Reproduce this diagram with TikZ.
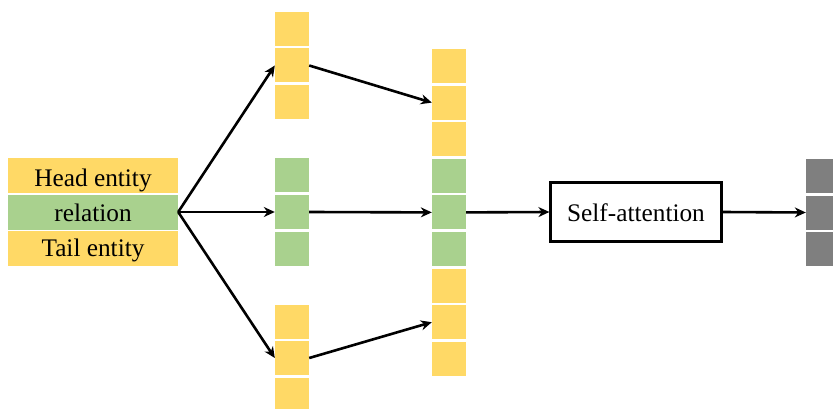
\documentclass[tikz,border=0pt]{standalone}
\usepackage{fontspec}
\setmainfont{Liberation Serif}
\usetikzlibrary{arrows.meta}
\definecolor{cyel}{HTML}{FFD966}
\definecolor{cgrn}{HTML}{A9D18E}
\definecolor{cgry}{HTML}{7F7F7F}
\begin{document}
\begin{tikzpicture}[x=1pt,y=-1pt,
  cell/.style={minimum width=34pt,minimum height=34pt,inner sep=0pt,draw=none},
  ycell/.style={cell,fill=cyel},
  gcell/.style={cell,fill=cgrn},
  kcell/.style={cell,fill=cgry},
  lrow/.style={minimum width=170pt,minimum height=35pt,inner sep=0pt},
  ltext/.style={anchor=base,inner sep=0pt,font=\fontsize{25.3}{29}\selectfont},
  arr/.style={line width=2.6pt,-{Stealth[length=11pt,width=10pt]}}]
\useasboundingbox (0,0) rectangle (833,409);
% left box
\node[lrow,fill=cyel] (head) at (93,175.5) {};
\node[lrow,fill=cgrn] (rel) at (93,212) {};
\node[lrow,fill=cyel] (tail) at (93,248.5) {};
\node[ltext] (headt) at (93,186.5) {Head entity};
\node[ltext] (relt) at (93,221.5) {relation};
\node[ltext] (tailt) at (93,256.5) {Tail entity};
% top column
\node[ycell] (t1) at (292,29) {};
\node[ycell] (t2) at (292,65.5) {};
\node[ycell] (t3) at (292,102) {};
% green column
\node[gcell] (g1) at (292,175.5) {};
\node[gcell] (g2) at (292,212) {};
\node[gcell] (g3) at (292,248.5) {};
% bottom column
\node[ycell] (b1) at (292,321.5) {};
\node[ycell] (b2) at (292,358) {};
\node[ycell] (b3) at (292,394.5) {};
% middle column
\node[ycell] (m1) at (449,66) {};
\node[ycell] (m2) at (449,102.6) {};
\node[ycell] (m3) at (449,139.2) {};
\node[gcell] (m4) at (449,175.8) {};
\node[gcell] (m5) at (449,212.4) {};
\node[gcell] (m6) at (449,249) {};
\node[ycell] (m7) at (449,285.6) {};
\node[ycell] (m8) at (449,322.2) {};
\node[ycell] (m9) at (449,358.8) {};
% self-attention
\node[draw,line width=2.2pt,minimum width=171pt,minimum height=59pt,inner sep=0pt] (sa) at (636,212) {};
\node[ltext] (sat) at (636,221) {Self-attention};
% gray column
\node[kcell] (k1) at (823,176) {};
\node[kcell] (k2) at (823,212.5) {};
\node[kcell] (k3) at (823,249) {};
% arrows
\draw[arr] (rel.east) -- (t2.west);
\draw[arr] (rel.east) -- (g2.west);
\draw[arr] (rel.east) -- (b2.west);
\draw[arr] (t2.east) -- (m2.west);
\draw[arr] (g2.east) -- (m5.west);
\draw[arr] (b2.east) -- (m8.west);
\draw[arr] (m5.east) -- (sa.west);
\draw[arr] (sa.east) -- (k2.west);
\end{tikzpicture}
\end{document}
